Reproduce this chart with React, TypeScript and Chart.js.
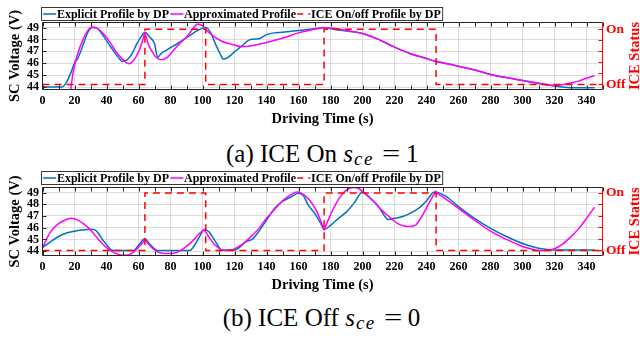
import React, { useEffect, useRef } from 'react';
import { Chart, registerables } from 'chart.js';

Chart.register(...registerables);

const FONT = '"Liberation Serif", "Times New Roman", Times, serif';
const BLUE = '#0072BD';
const MAGENTA = '#FF00FF';
const RED = '#FF0000';
const AXIS = '#262626';
const GRID = '#dcdcdc';

// ---------- tick / label data ----------
const xTicks = [0, 20, 40, 60, 80, 100, 120, 140, 160, 180, 200, 220, 240, 260, 280, 300, 320, 340];
const xMinorTicks = [0, 10, 20, 30, 40, 50, 60, 70, 80, 90, 100, 110, 120, 130, 140, 150, 160, 170, 180, 190, 200, 210, 220, 230, 240, 250, 260, 270, 280, 290, 300, 310, 320, 330, 340, 350];
const voltTicks = [44, 45, 46, 47, 48, 49];
const statusTicks = [0, 0.2, 0.4, 0.6, 0.8, 1];
const statusOff = 'Off';
const statusOn = 'On';
const legendLabels = ['Explicit Profile by DP', 'Approximated Profile', 'ICE On/off Profile by DP'];
const xTitle = 'Driving Time (s)';
const yTitle = 'SC Voltage (V)';
const y1Title = 'ICE Status';

// ---------- ICE on/off profile (same in both panels) ----------
const iceTime = [0, 64, 102, 176, 246, 350];
const iceState = [0, 1, 0, 1, 0, 0];

// ---------- (a) ICE On ----------
const aExplicitTime = [0, 12, 15, 18, 20, 22, 25, 28, 31, 34, 37, 40, 44, 48, 50, 53, 56, 59, 62, 64, 67, 70, 72, 74, 78, 85, 90, 95, 100, 102, 105, 108, 111, 113, 116, 120, 125, 130, 135, 140, 145, 150, 160, 170, 176, 180, 190, 200, 210, 220, 230, 240, 246, 250, 260, 270, 280, 290, 300, 310, 320, 325, 330, 345];
const aExplicitVolt = [44.0, 44.0, 44.4, 45.3, 46.0, 46.4, 47.4, 48.5, 49.0, 48.95, 48.5, 47.9, 47.1, 46.4, 46.15, 46.3, 46.8, 47.65, 48.3, 48.6, 48.2, 47.65, 46.5, 46.8, 47.15, 47.7, 48.15, 48.6, 48.95, 49.0, 48.6, 47.65, 46.8, 46.35, 46.5, 46.95, 47.5, 48.0, 48.05, 48.4, 48.55, 48.6, 48.75, 48.9, 49.0, 48.9, 48.7, 48.5, 48.0, 47.35, 46.8, 46.4, 46.15, 46.05, 45.75, 45.45, 45.05, 44.8, 44.55, 44.3, 44.1, 44.0, 43.95, 43.95];
const aApproxTime = [17, 19, 20, 22, 25, 28, 31, 34, 38, 42, 46, 50, 54, 57, 60, 62, 63.2, 64, 64.8, 66, 68, 71, 74, 78, 82, 86, 90, 94, 97, 100, 103, 107, 112, 118, 124, 130, 140, 150, 160, 170, 176, 180, 190, 200, 210, 220, 230, 240, 246, 250, 260, 270, 280, 290, 300, 310, 318, 325, 330, 335, 340, 345];
const aApproxVolt = [43.2, 45.1, 45.8, 46.8, 47.9, 48.7, 49.05, 48.95, 48.5, 47.8, 46.95, 46.35, 45.95, 46.25, 46.95, 47.65, 48.2, 48.6, 48.2, 47.65, 47.1, 46.5, 46.3, 46.5, 47.1, 47.7, 48.2, 48.9, 49.3, 49.15, 48.7, 48.25, 47.85, 47.6, 47.4, 47.45, 47.75, 48.1, 48.55, 48.85, 48.98, 48.95, 48.75, 48.5, 48.0, 47.35, 46.8, 46.4, 46.15, 46.05, 45.75, 45.45, 45.05, 44.8, 44.55, 44.35, 44.15, 44.2, 44.35, 44.5, 44.75, 44.95];

// ---------- (b) ICE Off ----------
const bExplicitTime = [0, 5, 10, 15, 20, 25, 30, 33, 35, 38, 41, 43, 45, 57, 60, 64, 67, 70, 72, 92, 95, 98, 101, 104, 107, 110, 112, 120, 123, 127, 131, 135, 140, 145, 150, 155, 160, 163, 166, 170, 174, 176, 180, 185, 190, 195, 200, 205, 210, 214, 216, 220, 225, 230, 235, 240, 245, 248, 252, 260, 270, 280, 290, 300, 310, 320, 345];
const bExplicitVolt = [44.3, 44.8, 45.25, 45.55, 45.7, 45.8, 45.87, 45.8, 45.5, 44.9, 44.4, 44.1, 44.05, 44.05, 44.5, 45.05, 44.6, 44.2, 44.05, 44.05, 44.5, 45.2, 45.85, 45.65, 45.05, 44.4, 44.1, 44.1, 44.3, 44.8, 45.0, 45.65, 46.65, 47.65, 48.25, 48.6, 48.95, 48.75, 47.95, 47.25, 46.35, 45.85, 46.2, 46.8, 47.35, 48.15, 49.05, 48.5, 47.8, 46.95, 46.7, 46.8, 46.95, 47.25, 47.65, 48.3, 49.05, 48.95, 48.7, 47.8, 46.8, 45.95, 45.25, 44.65, 44.25, 44.1, 44.1];
const bApproxTime = [0, 5, 10, 15, 18, 22, 26, 30, 35, 40, 45, 50, 54, 58, 61, 63.3, 64, 64.7, 67, 70, 74, 79, 84, 89, 94, 98, 100.3, 101, 101.7, 104, 108, 112, 116, 120, 125, 130, 135, 140, 145, 150, 155, 159, 163, 167, 171, 174, 175.3, 176, 176.7, 179, 183, 187, 191, 195, 198, 202, 207, 212, 217, 222, 226, 229, 233, 237, 241, 244, 245.3, 246, 246.7, 250, 260, 270, 280, 290, 300, 305, 310, 315, 320, 325, 330, 335, 340, 345];
const bApproxVolt = [44.3, 45.65, 46.35, 46.7, 46.8, 46.65, 46.3, 45.8, 45.0, 44.3, 43.85, 43.65, 43.7, 44.05, 44.5, 44.85, 45.05, 44.85, 44.5, 44.1, 43.85, 43.8, 43.9, 44.3, 44.9, 45.5, 45.75, 45.85, 45.7, 45.2, 44.5, 44.1, 44.05, 44.2, 44.6, 45.2, 45.9, 46.8, 47.55, 48.3, 48.8, 49.05, 48.85, 48.35, 47.5, 46.55, 46.05, 45.8, 46.05, 46.8, 47.95, 48.8, 49.3, 49.42, 49.3, 48.85, 48.25, 47.5, 46.9, 46.35, 46.15, 46.1, 46.2, 46.95, 47.95, 48.7, 48.95, 49.1, 48.95, 48.65, 47.65, 46.65, 45.7, 45.0, 44.4, 44.2, 44.05, 44.05, 44.2, 44.6, 45.2, 45.9, 46.8, 47.75];

const pts = (xs: number[], ys: number[]) => xs.map((x, i) => ({ x, y: ys[i] }));

type PanelCfg = {
  canvasTop: number;
  height: number;
  areaTop: number;
  areaBottom: number;
  legendTop: number;
  vMin: number;
  vMax: number;
  sMin: number;
  sMax: number;
  expT: number[];
  expV: number[];
  apxT: number[];
  apxV: number[];
};

const AREA_LEFT = 42.5;
const AREA_RIGHT = 602.5;
const W = 640;

function makeChart(canvas: HTMLCanvasElement, P: PanelCfg) {
  const decor = {
    id: 'matlabDecor',
    afterDatasetsDraw(chart: any) {
      const { ctx, chartArea: a, scales } = chart;
      const xs = scales.x, ys = scales.y, y1 = scales.y1;
      ctx.save();
      // frame (left / bottom / top)
      ctx.lineWidth = 1;
      ctx.strokeStyle = AXIS;
      ctx.beginPath();
      ctx.moveTo(a.right, a.top);
      ctx.lineTo(a.left, a.top);
      ctx.lineTo(a.left, a.bottom);
      ctx.lineTo(a.right, a.bottom);
      for (const v of xMinorTicks) {
        const px = Math.round(xs.getPixelForValue(v)) + 0.5;
        ctx.moveTo(px, a.bottom);
        ctx.lineTo(px, a.bottom - 4);
        ctx.moveTo(px, a.top);
        ctx.lineTo(px, a.top + 4);
      }
      for (const v of voltTicks) {
        const py = Math.round(ys.getPixelForValue(v)) + 0.5;
        ctx.moveTo(a.left, py);
        ctx.lineTo(a.left + 4, py);
      }
      ctx.stroke();
      // right axis (red)
      ctx.strokeStyle = RED;
      ctx.beginPath();
      ctx.moveTo(a.right, a.top);
      ctx.lineTo(a.right, a.bottom);
      for (const v of statusTicks) {
        const py = Math.round(y1.getPixelForValue(v)) + 0.5;
        ctx.moveTo(a.right, py);
        ctx.lineTo(a.right - 4, py);
      }
      ctx.stroke();

      // axis titles
      const cy = (a.top + a.bottom) / 2;
      ctx.font = `bold 14.5px ${FONT}`;
      ctx.textAlign = 'center';
      ctx.textBaseline = 'alphabetic';
      ctx.fillStyle = '#000';
      ctx.fillText(xTitle, (a.left + a.right) / 2, a.bottom + 33);
      ctx.save();
      ctx.translate(19, cy);
      ctx.rotate(-Math.PI / 2);
      ctx.fillText(yTitle, 0, 0);
      ctx.restore();
      ctx.save();
      ctx.translate(639, cy);
      ctx.rotate(-Math.PI / 2);
      ctx.fillStyle = RED;
      ctx.fillText(y1Title, 0, 0);
      ctx.restore();

      // legend box
      ctx.font = `bold 12px ${FONT}`;
      const left = 41.5;
      const top = P.legendTop + 0.5;
      const h = 13;
      const widths = legendLabels.map((t) => ctx.measureText(t).width);
      let total = 1.6;
      widths.forEach((w, i) => { total += 13.8 + w + (i < widths.length - 1 ? 1.3 : 1.8); });
      ctx.fillStyle = '#fff';
      ctx.fillRect(left, top, total, h);
      ctx.strokeStyle = '#3a3a3a';
      ctx.lineWidth = 1;
      ctx.strokeRect(left, top, total, h);
      const colors = [BLUE, MAGENTA, RED];
      let x = left + 1.6;
      const ly = top + h / 2;
      ctx.textAlign = 'left';
      ctx.textBaseline = 'middle';
      legendLabels.forEach((t, i) => {
        ctx.beginPath();
        ctx.strokeStyle = colors[i];
        ctx.lineWidth = 1.5;
        ctx.setLineDash(i === 2 ? [6, 5] : []);
        ctx.moveTo(x, ly);
        ctx.lineTo(x + 13, ly);
        ctx.stroke();
        ctx.setLineDash([]);
        x += 13.8;
        ctx.fillStyle = '#000';
        ctx.fillText(t, x, ly + 0.5);
        x += widths[i] + 1.3;
      });
      ctx.restore();
    },
  };

  const tickFont = { family: FONT, size: 12, weight: 'bold' as const };

  return new Chart(canvas, {
    type: 'line',
    data: {
      datasets: [
        {
          label: legendLabels[0],
          data: pts(P.expT, P.expV),
          borderColor: BLUE,
          borderWidth: 1.5,
          pointRadius: 0,
          fill: false,
          cubicInterpolationMode: 'monotone',
          yAxisID: 'y',
          order: 2,
        },
        {
          label: legendLabels[1],
          data: pts(P.apxT, P.apxV),
          borderColor: MAGENTA,
          borderWidth: 1.5,
          pointRadius: 0,
          fill: false,
          cubicInterpolationMode: 'monotone',
          yAxisID: 'y',
          order: 1,
        },
        {
          label: legendLabels[2],
          data: pts(iceTime, iceState),
          borderColor: RED,
          borderWidth: 1.5,
          borderDash: [7, 5],
          pointRadius: 0,
          fill: false,
          stepped: 'before',
          yAxisID: 'y1',
          order: 0,
        },
      ],
    },
    options: {
      responsive: false,
      maintainAspectRatio: false,
      animation: false,
      layout: { padding: { top: P.areaTop, left: 0, right: 0, bottom: 0 } },
      plugins: { legend: { display: false }, tooltip: { enabled: false } },
      scales: {
        x: {
          type: 'linear',
          min: 0,
          max: 350,
          afterBuildTicks: (s: any) => { s.ticks = xTicks.map((v) => ({ value: v })); },
          afterFit: (s: any) => { s.height = P.height - P.areaBottom; },
          grid: { color: GRID, drawTicks: false },
          border: { display: false },
          ticks: { font: tickFont, color: '#000', padding: 4.5, maxRotation: 0, autoSkip: false },
        },
        y: {
          type: 'linear',
          position: 'left',
          min: P.vMin,
          max: P.vMax,
          afterBuildTicks: (s: any) => { s.ticks = voltTicks.map((v) => ({ value: v })); },
          afterFit: (s: any) => { s.width = AREA_LEFT; },
          grid: { color: GRID, drawTicks: false },
          border: { display: false },
          ticks: { font: tickFont, color: '#000', padding: 3.5, autoSkip: false },
        },
        y1: {
          type: 'linear',
          position: 'right',
          min: P.sMin,
          max: P.sMax,
          afterBuildTicks: (s: any) => { s.ticks = statusTicks.map((v) => ({ value: v })); },
          afterFit: (s: any) => { s.width = W - AREA_RIGHT; },
          grid: { display: false, drawTicks: false },
          border: { display: false },
          ticks: {
            font: { family: FONT, size: 13.5, weight: 'bold' },
            color: RED,
            padding: 3.5,
            autoSkip: false,
            callback: (v: any) => (v === 0 ? statusOff : v === 1 ? statusOn : ''),
          },
        },
      },
    },
    plugins: [decor],
  } as any);
}

function Panel({ cfg }: { cfg: PanelCfg }) {
  const ref = useRef<HTMLCanvasElement>(null);
  useEffect(() => {
    if (!ref.current) return;
    const chart = makeChart(ref.current, cfg);
    return () => chart.destroy();
  }, []);
  return (
    <canvas
      ref={ref}
      width={W}
      height={cfg.height}
      style={{ position: 'absolute', left: 0, top: cfg.canvasTop, width: W, height: cfg.height, display: 'block' }}
    />
  );
}

const panelA: PanelCfg = {
  canvasTop: 0, height: 130, areaTop: 22.5, areaBottom: 89.5, legendTop: 7,
  vMin: 43.8, vMax: 49.42, sMin: -0.091, sMax: 1.122,
  expT: aExplicitTime, expV: aExplicitVolt, apxT: aApproxTime, apxV: aApproxVolt,
};
const panelB: PanelCfg = {
  canvasTop: 165, height: 130, areaTop: 22.5, areaBottom: 90.5, legendTop: 6,
  vMin: 43.63, vMax: 49.43, sMin: -0.087, sMax: 1.094,
  expT: bExplicitTime, expV: bExplicitVolt, apxT: bApproxTime, apxV: bApproxVolt,
};

function Caption({ top, left, label, state, value }: { top: number; left: number; label: string; state: string; value: string }) {
  return (
    <div
      style={{
        position: 'absolute', left, top, whiteSpace: 'nowrap',
        fontFamily: FONT, fontSize: 25, lineHeight: '24px', color: '#000',
      }}
    >
      {label} ICE {state}{' '}
      <i style={{ letterSpacing: '1px' }}>s</i>
      <sub style={{ fontStyle: 'italic', fontSize: 19, lineHeight: 0, verticalAlign: '-3px', letterSpacing: '1.5px' }}>ce</sub>
      <span style={{ display: 'inline-block', transform: 'scaleX(1.3)', margin: '0 8px 0 10px' }}>=</span>
      {value}
    </div>
  );
}

export default function App() {
  return (
    <div style={{ position: 'fixed', left: 0, top: 0, width: 640, height: 337, background: '#fff', overflow: 'hidden' }}>
      <Panel cfg={panelA} />
      <Caption top={142.3} left={226} label="(a)" state="On" value="1" />
      <Panel cfg={panelB} />
      <Caption top={305.6} left={222.7} label="(b)" state="Off" value="0" />
    </div>
  );
}
